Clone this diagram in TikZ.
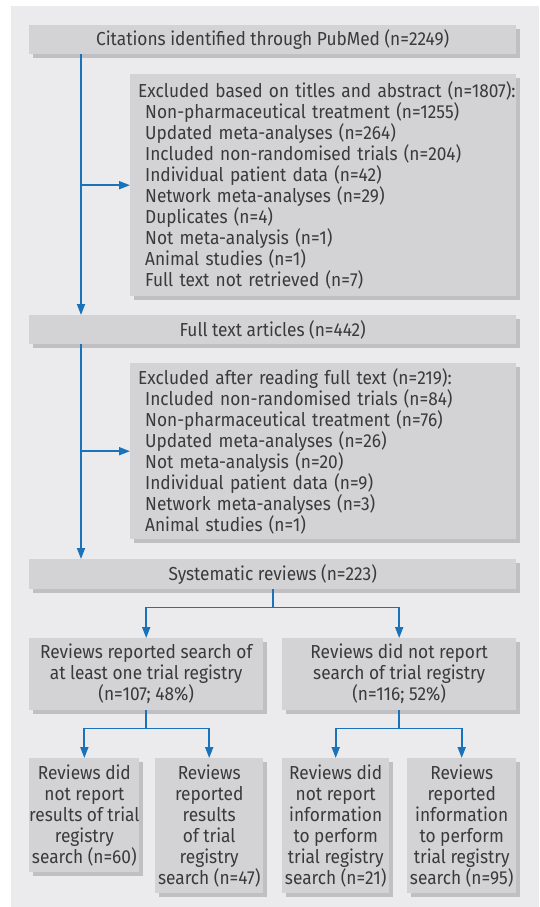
\documentclass[tikz,border=0pt]{standalone}
\usepackage{fontspec}
\setmainfont[FakeStretch=0.92]{Fira Sans}
\usetikzlibrary{arrows.meta,shadows}
\definecolor{bggray}{HTML}{EBEBED}
\definecolor{boxgray}{HTML}{D3D3D5}
\definecolor{shgray}{HTML}{C0C0C2}
\definecolor{txtgray}{HTML}{3A3A3A}
\definecolor{bmjblue}{HTML}{1A72BB}
\begin{document}
\begin{tikzpicture}[x=1pt,y=1pt,
  box/.style={fill=boxgray, anchor=north west, inner sep=0pt, text=txtgray,
    font=\fontsize{18.8}{21}\selectfont, align=center,
    drop shadow={shadow xshift=4pt, shadow yshift=-4pt, fill=shgray, opacity=1}},
  listbox/.style={box, minimum width=386pt, align=left, text width=370pt, inner xsep=8pt},
  arr/.style={draw=bmjblue, line width=1.8pt, -{Triangle[length=11pt,width=8pt]}},
  ln/.style={draw=bmjblue, line width=1.8pt}]
\useasboundingbox (0,0) rectangle (539,-907);
\fill[bggray] (11,-6) rectangle (539,-907);
% top boxes
\node[box, minimum width=487pt, minimum height=29pt] (cit) at (29,-25) {Citations identified through PubMed (n=2249)};
\node[listbox, minimum height=222pt] (ex1) at (130,-74) {\mbox{Excluded based on titles and abstract (n=1807):}\\
\hspace*{7pt}Non-pharmaceutical treatment (n=1255)\\
\hspace*{7pt}Updated meta-analyses (n=264)\\
\hspace*{7pt}Included non-randomised trials (n=204)\\
\hspace*{7pt}Individual patient data (n=42)\\
\hspace*{7pt}Network meta-analyses (n=29)\\
\hspace*{7pt}Duplicates (n=4)\\
\hspace*{7pt}Not meta-analysis (n=1)\\
\hspace*{7pt}Animal studies (n=1)\\
\hspace*{7pt}Full text not retrieved (n=7)};
\node[box, minimum width=487pt, minimum height=29pt] (full) at (29,-315) {Full text articles (n=442)};
\node[listbox, minimum height=176pt] (ex2) at (130,-363) {Excluded after reading full text (n=219):\\
\hspace*{7pt}Included non-randomised trials (n=84)\\
\hspace*{7pt}Non-pharmaceutical treatment (n=76)\\
\hspace*{7pt}Updated meta-analyses (n=26)\\
\hspace*{7pt}Not meta-analysis (n=20)\\
\hspace*{7pt}Individual patient data (n=9)\\
\hspace*{7pt}Network meta-analyses (n=3)\\
\hspace*{7pt}Animal studies (n=1)};
\node[box, minimum width=487pt, minimum height=30pt] (sys) at (29,-559) {Systematic reviews (n=223)};
% middle boxes
\node[box, minimum width=234pt, minimum height=72pt] (r1) at (29,-638) {Reviews reported search of\\at least one trial registry\\(n=107; 48\%)};
\node[box, minimum width=234pt, minimum height=72pt] (r2) at (282,-638) {Reviews did not report\\search of trial registry\\(n=116; 52\%)};
% bottom boxes
\node[box, minimum width=108pt, minimum height=114pt] (b1) at (29,-758) {Reviews did\\not report\\results of trial\\registry\\search (n=60)};
\node[box, minimum width=108pt, minimum height=135pt] (b2) at (155,-758) {Reviews\\reported\\results\\of trial\\registry\\search (n=47)};
\node[box, minimum width=107pt, minimum height=135pt] (b3) at (282,-758) {Reviews did\\not report\\information\\to perform\\trial registry\\search (n=21)};
\node[box, minimum width=109pt, minimum height=135pt] (b4) at (407,-758) {Reviews\\reported\\information\\to perform\\trial registry\\search (n=95)};
% connectors
\coordinate (trunk) at (81,0);
\draw[arr] (cit.south -| trunk) -- (full.north -| trunk);
\draw[arr] (ex1.west -| trunk) -- (ex1.west);
\draw[arr] (full.south -| trunk) -- (sys.north -| trunk);
\draw[arr] (ex2.west -| trunk) -- (ex2.west);
\draw[ln] (sys.south) -- ++(0,-18) coordinate (j0);
\draw[arr] (j0) -| (r1.north);
\draw[arr] (j0) -| (r2.north);
\draw[ln] (r1.south) -- ++(0,-18) coordinate (j1);
\draw[arr] (j1) -| (b1.north);
\draw[arr] (j1) -| (b2.north);
\draw[ln] (r2.south) -- ++(0,-18) coordinate (j2);
\draw[arr] (j2) -| (b3.north);
\draw[arr] (j2) -| (b4.north);
\end{tikzpicture}
\end{document}
